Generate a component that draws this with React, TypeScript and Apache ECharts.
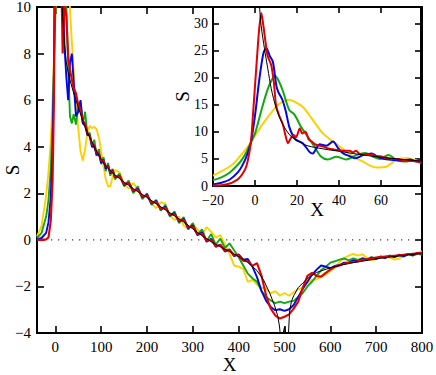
import React, { useEffect, useRef } from 'react';
import * as echarts from 'echarts';

// ---------- main panel ----------
const mainX = [-40,-30,-20,-15,-10,-6,-3,0,3,6,10,13,16,
  20,24,28,32,36,40,
  45,50,55,60,65,70,75,80,85,90,95,100,105,110,115,120,125,130,
  140,150,160,170,180,190,200,210,220,230,240,250,260,270,280,290,300,310,320,330,340,350,360,370,380,390,400,
  410,420,430,440,450,460,470,480,490,500,510,520,530,540,550,560,570,580,590,600,610,620,630,640,650,660,670,680,690,700,
  710,720,730,740,750,760,770,780,790,800];

const mainYellow = [0.15,0.6,1.9,2.9,4.2,6.0,7.8,9.7,11.3,12.8,14.4,15.4,15.9,
  15.3,14.0,12.0,9.9,8.5,7.3,
  5.9,4.8,3.8,3.4,3.9,4.6,4.9,4.8,4.85,4.75,4.4,3.8,3.2,2.6,2.3,2.3,2.7,3.0,
  2.9,2.4,2.2,2.45,2.15,1.8,1.95,1.55,1.36,1.62,1.55,1.05,0.85,1.0,0.62,0.45,0.7,0.45,0.2,0.55,0.35,0.1,0.2,-0.2,-0.6,-1.1,-1.15,
  -1.25,-1.8,-1.72,-1.92,-2.05,-2.1,-2.3,-2.2,-2.4,-2.28,-2.4,-2.25,-2.12,-2.05,-1.85,-1.72,-1.7,-1.58,-1.5,-1.32,-1.2,-0.95,-0.78,-0.68,-0.6,-0.68,-0.62,-0.78,-0.88,-0.82,
  -0.75,-0.7,-0.76,-0.85,-0.8,-0.7,-0.6,-0.66,-0.56,-0.5];

const mainGreen = [0.08,0.3,1.0,1.7,3.0,5.0,7.3,9.8,14,17.5,20.2,17.8,14.2,
  12.8,10.0,7.4,5.3,5.0,5.4,
  4.95,5.8,5.9,5.0,5.5,4.5,4.6,4.0,4.3,3.6,3.9,3.25,3.55,2.95,3.3,2.75,3.05,2.6,
  2.85,2.3,2.55,2.0,2.3,1.75,2.0,1.5,1.72,1.25,1.5,1.0,1.22,0.72,0.98,0.45,0.72,0.2,0.45,-0.05,0.25,-0.2,0.05,-0.35,-0.15,-0.45,-0.75,
  -1.1,-1.45,-1.65,-1.8,-2.2,-2.45,-2.6,-2.72,-2.65,-2.72,-2.65,-2.62,-2.45,-2.28,-2.0,-1.8,-1.55,-1.3,-1.15,-0.98,-0.92,-0.85,-0.8,-0.88,-0.8,-0.86,-0.78,-0.84,-0.74,-0.8,
  -0.72,-0.78,-0.68,-0.74,-0.66,-0.72,-0.62,-0.68,-0.6,-0.64];

const mainBlue = [0.02,0.08,0.3,0.75,1.8,4.0,7.5,14,21,25,19,16,11.2,
  8.3,7.0,6.0,7.6,8.0,6.8,
  5.3,5.5,6.0,5.0,4.9,4.5,4.5,4.0,4.0,3.65,3.7,3.3,3.45,3.05,3.2,2.85,3.0,2.68,
  2.75,2.35,2.45,2.08,2.2,1.82,1.95,1.55,1.68,1.3,1.42,1.05,1.15,0.78,0.9,0.5,0.62,0.2,0.32,-0.08,0.05,-0.3,-0.2,-0.5,-0.42,-0.7,-0.62,
  -0.85,-0.82,-1.15,-1.6,-2.2,-2.62,-2.88,-3.02,-2.98,-3.05,-2.98,-2.8,-2.45,-2.1,-1.8,-1.5,-1.28,-1.1,-1.15,-1.22,-1.12,-1.08,-0.98,-0.98,-0.88,-0.92,-0.82,-0.86,-0.76,-0.82,
  -0.72,-0.78,-0.68,-0.74,-0.64,-0.7,-0.6,-0.66,-0.56,-0.6];

const mainRed = [0,0,0.02,0.1,0.8,2.5,6,16,31.5,24,15,11.3,8.0,
  10.2,9.6,7.9,7.3,6.9,6.5,
  6.3,5.8,5.6,5.1,5.0,4.6,4.45,4.1,4.05,3.75,3.7,3.4,3.4,3.15,3.15,2.92,2.95,2.72,
  2.72,2.4,2.44,2.12,2.16,1.86,1.9,1.6,1.63,1.33,1.37,1.08,1.1,0.82,0.85,0.55,0.55,0.25,0.26,-0.02,0.0,-0.27,-0.22,-0.47,-0.42,-0.66,-0.66,
  -0.9,-0.92,-1.12,-1.0,-1.55,-2.4,-2.95,-3.25,-3.38,-3.3,-3.2,-2.95,-2.65,-2.05,-1.55,-1.42,-1.55,-1.58,-1.42,-1.28,-1.15,-1.1,-1.02,-0.98,-0.95,-0.92,-0.86,-0.84,-0.8,-0.76,
  -0.73,-0.72,-0.7,-0.68,-0.66,-0.64,-0.62,-0.6,-0.58,-0.56];

const mainBlackX = [13,16,20,24,30,40,50,60,70,80,90,100,110,120,130,140,150,160,170,180,190,200,220,240,260,280,300,320,340,360,
  380,400,420,440,455,468,478,485,489,492,494,497,500,503,506,508,511,515,520,530,540,555,570,585,600,625,650,675,700,725,750,775,800];
const mainBlackY = [11.2,9.6,8.4,7.6,7.0,6.3,5.7,5.1,4.6,4.2,3.8,3.45,3.17,2.97,2.79,2.63,2.48,2.34,2.2,2.07,1.95,1.82,1.55,1.29,1.03,0.77,0.47,0.18,-0.08,-0.3,
  -0.5,-0.72,-0.97,-1.32,-1.75,-2.3,-2.8,-3.25,-3.7,-4.3,-5.5,-4.0,-3.75,-4.0,-5.5,-4.3,-3.1,-2.65,-2.4,-2.05,-1.85,-1.58,-1.4,-1.3,-1.2,-1.08,-0.98,-0.9,-0.82,-0.75,-0.69,-0.63,-0.58];

const mainXTicks = [0,100,200,300,400,500,600,700,800];

// ---------- inset panel ----------
const insetYellowX = [-20,-16,-12,-10,-6,-2,0,5.1,10,13,16.3,19,22.7,27.5,32.3,37.1,41.9,46.7,51.5,55,57.9,60.5,62.7,65,67.5,72.2,76,79];
const insetYellowY = [1.9,2.7,3.6,4.2,6.0,8.0,9.3,12.2,14.6,15.5,15.9,15.5,14.6,12.2,9.7,8.2,6.8,5.4,4.5,3.7,3.4,3.45,3.6,4.2,4.9,5.1,4.8,4.4];

const insetGreenX = [-20,-16,-12,-8,-6,-4,-2,0,3.5,6,8,9.6,11,13.1,16.3,18.7,21.9,25.1,28.3,31.5,34.7,38.7,43.5,48.3,52.3,56.3,59.5,63.5,67.5,71.5,75.5,79];
const insetGreenY = [1.1,1.6,2.5,4.0,5.0,6.3,8.0,9.7,14.6,17.8,19.6,20.3,19.6,17.7,14,13.2,10.9,9.1,7.25,5.4,4.9,5.4,4.9,5.7,6.1,5.4,5.0,5.7,4.8,4.5,4.7,4.2];

const insetBlueX = [-20,-16,-12,-8,-6,-4,-2,0,2,4,5.4,7,8.5,10.1,11,13,14.5,16.3,18,19.5,22.7,25.9,27.5,29,30.7,33.9,37.1,39.5,42,45,47.5,51.5,55.5,58,61,65.8,70,73.8,76,79];
const insetBlueY = [0.3,0.6,1.2,2.6,3.8,5.5,8,13,19.5,24.5,25.4,24,22.9,18.6,17.4,15.9,14,10.9,9.3,8.5,7.9,6.3,6.0,6.8,7.7,7.4,8.2,7.0,6.0,5.5,5.1,5.7,6.0,5.5,5.0,4.8,4.7,4.9,4.6,4.5];

const insetRedX = [-20,-16,-12,-10,-8,-6,-4,-2,-1,0,1,2,3,4,5,6,7.7,9,10,11.5,13.3,14.5,15.7,17,18.5,19.5,21.3,22.5,24,25.5,27,29,32,35,38,42,45,46.7,48,50,53,56,57,59.5,62,66,69,72,75,79];
const insetRedY = [0.05,0.15,0.45,0.8,1.3,2.2,3.8,8,13,18.5,24,29,31.9,29.5,26.5,24,22.3,19,14.9,13,11.3,9.3,7.9,8.8,9.4,9.0,10.6,9.7,10.0,8.6,8.2,7.6,7.3,6.9,6.7,6.5,6.5,6.2,6.5,5.9,5.8,5.8,5.5,5.5,5.2,5.0,4.9,4.7,4.6,4.4];

const insetBlackX = [1.9,2.1,2.9,4.5,6.1,7.7,10.1,13.3,17.3,23.7,30,40,50,60,70,79];
const insetBlackY = [36,33.5,29.6,25.3,21.6,18,14.3,11.3,9.1,7.6,7.0,6.4,5.8,5.3,4.9,4.6];

const insetXTicks = [-20,0,20,40,60];
const insetYTicks = [0,5,10,15,20,25,30];

const zip = (xs: number[], ys: number[]) => xs.map((x, i) => [x, ys[i]]);
const fmt = (v: number) => String(v).replace('-', '\u2212');

const YELLOW = '#ffd000';
const GREEN = '#12a812';
const BLUE = '#0008e6';
const RED = '#e40000';
const FONT = "'Liberation Serif', 'Times New Roman', serif";

export default function App() {
  const ref = useRef<HTMLDivElement>(null);
  useEffect(() => {
    const chart = echarts.init(ref.current!, null, { renderer: 'svg' });
    const axisLine = { show: true, onZero: false, lineStyle: { color: '#000', width: 2 } };
    const tick = (len: number, vals?: number[]) => ({
      show: true, inside: true, length: len, lineStyle: { color: '#000', width: 1.6 },
      ...(vals ? { customValues: vals } : {}),
    });
    const lbl = (size: number, margin: number, vals?: number[]) => ({
      show: true, fontFamily: FONT, fontSize: size, lineHeight: size, color: '#000', margin, formatter: fmt,
      ...(vals ? { customValues: vals } : {}),
    });
    const nameStyle = { fontFamily: FONT, fontSize: 19, color: '#000' };
    const line = (data: number[][], color: string, width: number, xi: number, yi: number, smooth: number | boolean = false, z = 2) => ({
      type: 'line', data, xAxisIndex: xi, yAxisIndex: yi, showSymbol: false, symbol: 'none',
      smooth, lineStyle: { color, width }, z, silent: true,
    });

    const option: any = {
      animation: false,
      backgroundColor: '#fff',
      textStyle: { fontFamily: FONT, color: '#000' },
      grid: [
        { left: 37, right: 14, top: 7, bottom: 42, outerBoundsMode: 'none' },
        { left: 213, right: 15, top: 7, bottom: 189, outerBoundsMode: 'none', show: true, backgroundColor: '#fff', borderWidth: 0, z: 3 },
      ],
      xAxis: [
        { type: 'value', gridIndex: 0, min: -40, max: 800, position: 'bottom', axisLine,
          axisTick: tick(7, mainXTicks), axisLabel: lbl(15, 6, mainXTicks), splitLine: { show: false },
          name: 'X', nameLocation: 'middle', nameGap: 22, nameMoveOverlap: false, nameTextStyle: nameStyle },
        { type: 'value', gridIndex: 0, min: -40, max: 800, position: 'top', axisLine,
          axisTick: tick(7, mainXTicks), axisLabel: { show: false }, splitLine: { show: false } },
        { type: 'value', gridIndex: 1, min: -20, max: 79, position: 'bottom', axisLine,
          axisTick: tick(6, insetXTicks), axisLabel: lbl(14, 7, insetXTicks), splitLine: { show: false },
          name: 'X', nameLocation: 'middle', nameGap: 14, nameMoveOverlap: false, nameTextStyle: nameStyle, z: 4 },
        { type: 'value', gridIndex: 1, min: -20, max: 79, position: 'top', axisLine,
          axisTick: tick(6, insetXTicks), axisLabel: { show: false }, splitLine: { show: false }, z: 4 },
      ],
      yAxis: [
        { type: 'value', gridIndex: 0, min: -4, max: 10, interval: 2, position: 'left', axisLine,
          axisTick: tick(7), axisLabel: lbl(15, 6), splitLine: { show: false },
          name: 'S', nameLocation: 'middle', nameRotate: 90, nameGap: 15, nameMoveOverlap: false, nameTextStyle: nameStyle },
        { type: 'value', gridIndex: 0, min: -4, max: 10, interval: 2, position: 'right', axisLine,
          axisTick: tick(7), axisLabel: { show: false }, splitLine: { show: false } },
        { type: 'value', gridIndex: 1, min: 0, max: 33, position: 'left', axisLine,
          axisTick: tick(6, insetYTicks), axisLabel: lbl(14, 5, insetYTicks), splitLine: { show: false },
          name: 'S', nameLocation: 'middle', nameRotate: 90, nameGap: 21, nameMoveOverlap: false, nameTextStyle: nameStyle, z: 4 },
        { type: 'value', gridIndex: 1, min: 0, max: 33, position: 'right', axisLine,
          axisTick: tick(6, insetYTicks), axisLabel: { show: false }, splitLine: { show: false }, z: 4 },
      ],
      series: [
        { type: 'line', data: [[-40, 0], [800, 0]], xAxisIndex: 0, yAxisIndex: 0, showSymbol: false, symbol: 'none',
          lineStyle: { color: '#444', width: 1.3, type: [1.3, 5.7] }, z: 1, silent: true },
        line(zip(mainX, mainYellow), YELLOW, 1.9, 0, 0),
        line(zip(mainX, mainGreen), GREEN, 1.9, 0, 0),
        line(zip(mainX, mainBlue), BLUE, 1.9, 0, 0),
        line(zip(mainX, mainRed), RED, 2.1, 0, 0),
        line(zip(mainBlackX, mainBlackY), '#000', 1, 0, 0),
        line(zip(insetYellowX, insetYellowY), YELLOW, 2, 2, 2, 0.3, 5),
        line(zip(insetGreenX, insetGreenY), GREEN, 2, 2, 2, 0.3, 5),
        line(zip(insetBlueX, insetBlueY), BLUE, 2, 2, 2, 0.3, 5),
        line(zip(insetRedX, insetRedY), RED, 2, 2, 2, 0.3, 5),
        line(zip(insetBlackX, insetBlackY), '#000', 1, 2, 2, 0.3, 5),
      ],
    };
    chart.setOption(option);
    return () => chart.dispose();
  }, []);
  return (
    <div
      ref={ref}
      style={{ position: 'fixed', left: 0, top: 0, width: 436, height: 375, background: '#fff' }}
    />
  );
}
